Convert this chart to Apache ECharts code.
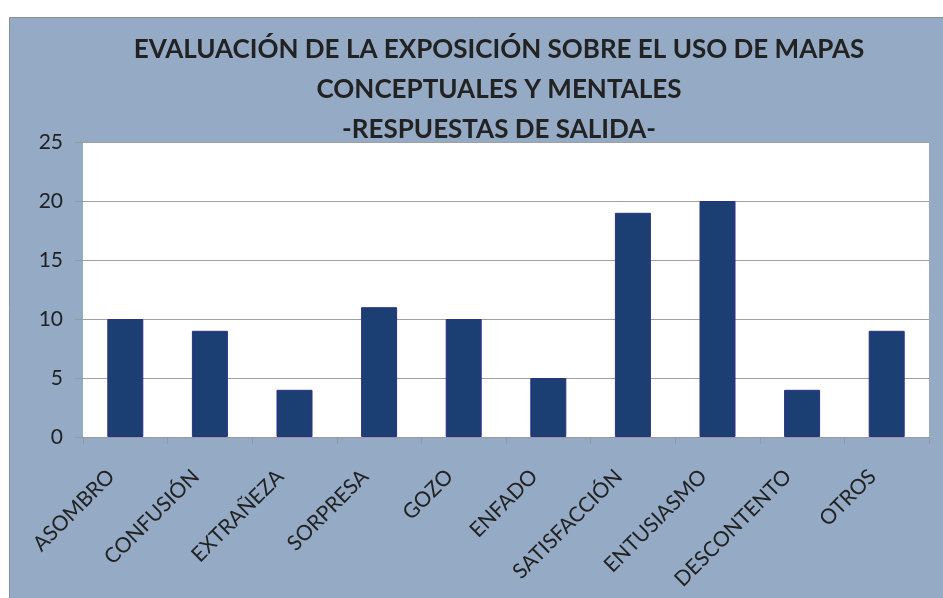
<!DOCTYPE html>
<html><head><meta charset="utf-8">
<script src="https://cdn.jsdelivr.net/npm/echarts@6/dist/echarts.min.js"></script>
<style>html,body{margin:0;padding:0;background:#fff}#c{width:943px;height:598px}</style>
</head><body><div id="c"></div>
<script>
const categories = ['ASOMBRO','CONFUSIÓN','EXTRAÑEZA','SORPRESA','GOZO','ENFADO','SATISFACCIÓN','ENTUSIASMO','DESCONTENTO','OTROS'];
const values = [10, 9, 4, 11, 10, 5, 19, 20, 4, 9];
const titleLines = ['EVALUACIÓN DE LA EXPOSICIÓN SOBRE EL USO DE MAPAS','CONCEPTUALES Y MENTALES','-RESPUESTAS DE SALIDA-'];
const yTicks = {min: 0, max: 25, interval: 5};

const chart = echarts.init(document.getElementById('c'), null, {renderer: 'canvas'});
chart.setOption({
  backgroundColor: '#ffffff',
  animation: false,
  graphic: [{
    type: 'rect', z: -10, silent: true,
    shape: {x: 9.5, y: 17.5, width: 940, height: 590},
    style: {fill: '#94AAC5', stroke: '#8a8f99', lineWidth: 1}
  }],
  title: {
    text: titleLines.join('\n'),
    left: 494, top: 25, textAlign: 'center',
    textStyle: {fontFamily: 'Lato', fontWeight: 'bold', fontSize: 26, color: '#222', lineHeight: 40}
  },
  grid: {left: 83, right: 14, top: 142, bottom: 161, show: true, backgroundColor: '#ffffff', borderWidth: 0},
  xAxis: {
    type: 'category', data: categories,
    axisLine: {lineStyle: {color: '#999', width: 1}},
    axisTick: {show: true, length: 7, lineStyle: {color: '#999'}},
    axisLabel: {rotate: 45, interval: 0, margin: 22, padding: [0, 20, 0, 0], fontFamily: 'Lato', fontSize: 21, color: '#222'}
  },
  yAxis: {
    type: 'value', min: yTicks.min, max: yTicks.max, interval: yTicks.interval,
    axisLine: {show: false},
    axisTick: {show: true, length: 8, lineStyle: {color: '#999'}},
    splitLine: {lineStyle: {color: '#a0a0a0', width: 1}},
    axisLabel: {margin: 20, fontFamily: 'Lato', fontSize: 21, color: '#222'}
  },
  series: [{
    type: 'bar', data: values, barWidth: 36,
    itemStyle: {color: '#1B3F73', borderColor: '#2E2E88', borderWidth: 1}
  }]
});
</script></body></html>
